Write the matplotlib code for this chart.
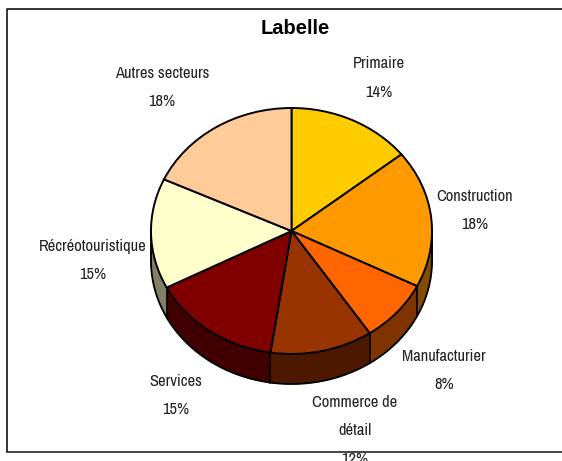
import numpy as np
import matplotlib
matplotlib.use("Agg")
import matplotlib.pyplot as plt
from matplotlib import font_manager as fm

# --- data -------------------------------------------------------------
categories = ["Primaire", "Construction", "Manufacturier", "Commerce de\ndétail",
              "Services", "Récréotouristique", "Autres secteurs"]
values = [14.3, 18.1, 8.2, 11.8, 15.0, 14.5, 18.1]
percent_labels = ["14%", "18%", "8%", "12%", "15%", "15%", "18%"]
top_colors = ["#FFCC00", "#FF9900", "#FF6600", "#993300", "#800000", "#FFFFCC", "#FFCC99"]
side_colors = ["#806600", "#7F4C00", "#7F3300", "#4C1900", "#400000", "#808066", "#806650"]
label_xy = [(379, 64), (475, 196), (444, 356), (355, 402), (176, 381), (93, 246), (162, 73)]
title = "Labelle"

W, H = 562, 461
fig = plt.figure(figsize=(W / 100, H / 100), dpi=100, facecolor="white")

names = {f.name for f in fm.fontManager.ttflist}
narrow, narrow_size = ("Archivo Narrow", 11.9) if "Archivo Narrow" in names else ("Liberation Sans", 9.8)

# overlay in pixel coordinates: frame and text
ov = fig.add_axes([0, 0, 1, 1], zorder=2)
ov.set_xlim(0, W); ov.set_ylim(H, 0); ov.axis("off"); ov.patch.set_alpha(0)
ov.plot([7, 7, W], [451.5, 9, 9], color="black", lw=1.1, solid_capstyle="butt")
ov.plot([7, W], [451.5, 451.5], color="#111111", lw=1.1)
ov.text(295, 28, title, ha="center", va="center", fontsize=14.5, fontweight="bold",
        family="Liberation Sans", color="black")
for name, pct, (x, y) in zip(categories, percent_labels, label_xy):
    lines = name.split("\n") + [pct]
    for i, line in enumerate(lines):
        ov.text(x, y + i * 28.5, line, ha="center", va="center", fontsize=narrow_size,
                family=narrow, color="#222222", clip_on=True)

# pie: centre and radii in pixels
cx, cy, rx, ry = 291.5, 231, 140.5, 123
ax = fig.add_axes([(cx - rx) / W, 1 - (cy + ry) / H, 2 * rx / W, 2 * ry / H], zorder=1)
ax.set_xlim(-1, 1); ax.set_ylim(-1, 1); ax.axis("off")
depth = 30 / ry

for d in np.linspace(depth, 0, 31)[:-1]:
    w, _ = ax.pie(values, colors=side_colors, startangle=90, counterclock=False,
                  center=(0, -d), radius=1, frame=True,
                  wedgeprops=dict(linewidth=0.6, edgecolor="none", antialiased=True))
    for p, c in zip(w, side_colors):
        p.set_edgecolor(c); p.set_clip_on(False); p.set_zorder(1)

# side outline and seams
edges = np.concatenate([[0], np.cumsum(values)]) / np.sum(values) * 2 * np.pi
t = np.linspace(np.pi / 2, 3 * np.pi / 2, 200)
ax.plot(np.sin(t), np.cos(t) - depth, color="black", lw=1.3, clip_on=False, zorder=2)
for a in [np.pi / 2, 3 * np.pi / 2]:
    ax.plot([np.sin(a)] * 2, [np.cos(a), np.cos(a) - depth], color="black", lw=1.3, clip_on=False, zorder=2)
for a in edges[1:-1]:
    if np.cos(a) < 0:
        ax.plot([np.sin(a)] * 2, [np.cos(a), np.cos(a) - depth], color="black", lw=1.2, clip_on=False, zorder=2)

w, _ = ax.pie(values, colors=top_colors, startangle=90, counterclock=False, center=(0, 0), radius=1,
              frame=True, wedgeprops=dict(linewidth=1.4, edgecolor="black"))
for p in w:
    p.set_clip_on(False); p.set_zorder(3)
ax.set_aspect("auto")
ax.set_xlim(-1, 1); ax.set_ylim(-1, 1); ax.axis("off")

fig.savefig("out.png", dpi=100)
